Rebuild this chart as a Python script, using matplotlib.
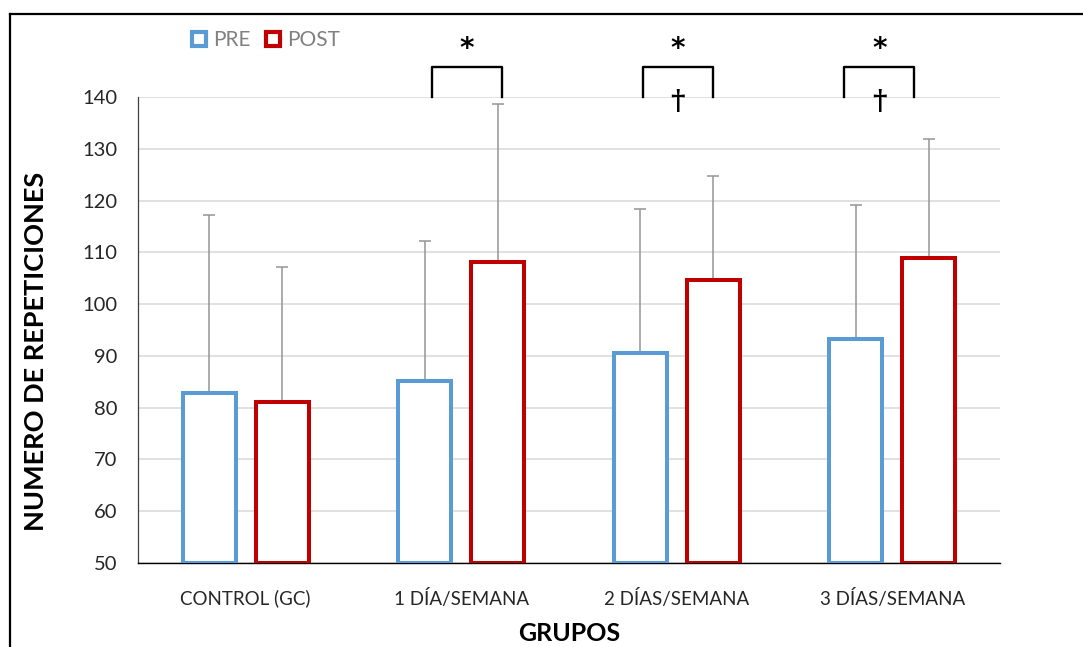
import matplotlib
import matplotlib.pyplot as plt
from matplotlib.lines import Line2D
import numpy as np

matplotlib.use('Agg')

grupos = ['CONTROL (GC)', '1 DÍA/SEMANA', '2 DÍAS/SEMANA', '3 DÍAS/SEMANA']
pre = [82.8, 85.2, 90.6, 93.3]
post = [81.0, 108.1, 104.7, 108.9]
pre_sd = [34.4, 27.0, 27.8, 25.8]
post_sd = [26.2, 30.5, 20.0, 23.0]
# significance marks above each group: (pre vs post, vs control)
sig_intra = [False, True, True, True]
sig_control = [False, False, True, True]

azul = '#5b9bd5'
rojo = '#c00000'
gris = '#959595'
base = 50

plt.rcParams['font.family'] = ['Lato', 'DejaVu Sans']

fig = plt.figure(figsize=(10.83, 6.47), dpi=100)
ax = fig.add_axes([138 / 1083, 1 - 563 / 647, 862 / 1083, 466 / 647])

x = np.arange(len(grupos))
off = 0.17
w = 0.246

ax.bar(x - off, np.array(pre) - base, w, bottom=base, facecolor='white',
       edgecolor=azul, linewidth=2.9, zorder=3)
ax.bar(x + off, np.array(post) - base, w, bottom=base, facecolor='white',
       edgecolor=rojo, linewidth=2.9, zorder=3)
ax.errorbar(x - off, pre, yerr=[np.zeros(len(pre)), pre_sd], fmt='none',
            ecolor=gris, elinewidth=1.1, capsize=4.5, capthick=1.1, zorder=2)
ax.errorbar(x + off, post, yerr=[np.zeros(len(post)), post_sd], fmt='none',
            ecolor=gris, elinewidth=1.1, capsize=4.5, capthick=1.1, zorder=2)

ax.set_xlim(-0.5, len(grupos) - 0.5)
ax.set_ylim(50, 140)
ax.set_yticks(range(50, 141, 10))
ax.set_xticks(x)
ax.set_xticklabels(grupos, fontsize=13.5, color='#262626')
ax.tick_params(axis='x', length=0, pad=19)
ax.tick_params(axis='y', length=0, pad=15, labelsize=14.5, labelcolor='#262626')
ax.grid(axis='y', color='#d9d9d9', linewidth=1.1, zorder=0)
ax.set_axisbelow(True)
for s in ['top', 'right']:
    ax.spines[s].set_visible(False)
ax.spines['left'].set_color('#404040')
ax.spines['left'].set_linewidth(0.9)
ax.spines['bottom'].set_color('black')
ax.spines['bottom'].set_linewidth(1.0)

ax.set_ylabel('NUMERO DE REPETICIONES', fontsize=19.5, fontweight='bold')
ax.yaxis.set_label_coords(-0.104, 0.455)
ax.set_xlabel('GRUPOS', fontsize=18, fontweight='bold', labelpad=10)

# brackets with asterisk / cross above the groups, nudged by hand
nudge = [0.0, 0.025, 0.005, -0.06]
for i in range(len(grupos)):
    if not sig_intra[i]:
        continue
    xc = x[i] + nudge[i]
    xl, xr = xc - 0.162, xc + 0.162
    ax.plot([xl, xl, xr, xr], [140, 145.8, 145.8, 140], color='black',
            linewidth=1.7, solid_joinstyle='round', clip_on=False, zorder=4)
    ax.text(xc, 149.2, '*', ha='center', va='center', fontsize=20,
            family='DejaVu Sans', fontweight='bold', clip_on=False)
    if sig_control[i]:
        ax.text(xc, 139.0, '†', ha='center', va='center', fontsize=20,
                family='DejaVu Serif', fontweight='bold', clip_on=False)

handles = [Line2D([0], [0], marker='s', linestyle='none', markersize=10.5,
                  markerfacecolor='white', markeredgecolor=azul,
                  markeredgewidth=3, label='PRE'),
           Line2D([0], [0], marker='s', linestyle='none', markersize=10.5,
                  markerfacecolor='white', markeredgecolor=rojo,
                  markeredgewidth=3, label='POST')]
leg = fig.legend(handles=handles, loc='center',
                 bbox_to_anchor=(266 / 1083, 1 - 40 / 647), ncol=2,
                 frameon=False, handlelength=0.7, handletextpad=0.35,
                 columnspacing=0.7, fontsize=15)
for t in leg.get_texts():
    t.set_color('#808080')

# outer frame lines
fy = 1 - 14 / 647
fx = 10 / 1083
fig.add_artist(Line2D([fx, 1], [fy, fy], color='black', linewidth=1.6))
fig.add_artist(Line2D([fx, fx], [0, fy], color='black', linewidth=1.6))

fig.savefig('out.png', dpi=100)
